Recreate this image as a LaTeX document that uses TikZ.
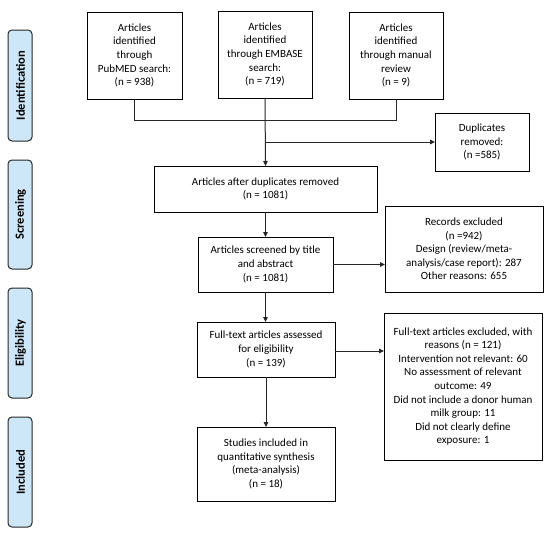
\documentclass[tikz,border=0pt]{standalone}
\usepackage{fontspec}
\setmainfont{Carlito}
\usetikzlibrary{arrows.meta}
\definecolor{phase}{HTML}{CDE7F8}
\tikzset{
  box/.style={draw=black, line width=1pt, fill=white, align=center, inner sep=2pt, font=\fontsize{11}{13.6}\selectfont},
  phasebox/.style={draw=black!85, line width=1pt, fill=phase, rounded corners=4pt},
  conn/.style={line width=1pt, draw=black!85},
  arr/.style={conn, -{Triangle[length=5pt,width=4.5pt]}},
}
\newcommand{\boxat}[6]{% name, x1, y1, x2, y2, text
  \draw[box] (#2,#3) rectangle (#4,#5);
  \node[align=center, inner sep=0pt, font=\fontsize{11}{13.6}\selectfont] (#1) at ({(#2+#4)/2},{(#3+#5)/2}) {#6};
  \coordinate (#1-n) at ({(#2+#4)/2},#3);
  \coordinate (#1-s) at ({(#2+#4)/2},#5);
  \coordinate (#1-w) at (#2,{(#3+#5)/2});
  \coordinate (#1-e) at (#4,{(#3+#5)/2});
}
\begin{document}
\begin{tikzpicture}[x=1pt,y=-1pt]
\useasboundingbox (0,0) rectangle (550,533);
\fill[white] (0,0) rectangle (550,533);
% phase labels
\foreach \nm/\ya/\yb/\txt in {ident/30/141/Identification, screen/160/269/Screening, elig/288/398/Eligibility, incl/417/527/Included}{
  \draw[phasebox] (8,\ya) rectangle (32,\yb);
  \node[rotate=90, font=\bfseries\fontsize{12.5}{14}\selectfont] (\nm) at (20.5,{(\ya+\yb)/2}) {\txt};
}
% boxes
\boxat{pub}{87}{12}{182}{99}{Articles\\identified\\through\\PubMED search:\\(n = 938)}
\boxat{emb}{218}{11}{312}{98}{Articles\\identified\\through EMBASE\\search:\\(n = 719)}
\boxat{man}{349}{12}{443}{99}{Articles\\identified\\through manual\\review\\(n = 9)}
\boxat{dup}{435}{113}{529}{171}{Duplicates\\removed:\\(n =585)}
\boxat{after}{154}{166}{377}{212}{Articles after duplicates removed\\(n = 1081)}
\boxat{scr}{198}{237}{333}{292}{Articles screened by title\\and abstract\\(n = 1081)}
\boxat{rec}{385}{206}{543}{292}{Records excluded\\(n =942)\\Design (review/meta-\\analysis/case report): 287\\Other reasons: 655}
\boxat{full}{197}{322}{335}{377}{Full-text articles assessed\\for eligibility\\(n = 139)}
\boxat{fex}{384}{313}{542}{460}{Full-text articles excluded, with\\reasons (n = 121)\\Intervention not relevant: 60\\No assessment of relevant\\outcome: 49\\Did not include a donor human\\milk group: 11\\Did not clearly define\\exposure: 1}
\boxat{inc}{197}{427}{335}{501}{Studies included in\\quantitative synthesis\\(meta-analysis)\\(n = 18)}
% connectors
\coordinate (j1) at (pub-s |- 0,120);
\coordinate (j3) at (man-s |- 0,120);
\coordinate (jd) at (emb-s |- dup-w);
\draw[conn] (pub-s) -- (j1) -- (j3) -- (man-s);
\draw[arr] (emb-s) -- (after-n);
\draw[arr] (jd) -- (dup-w);
\draw[arr] (after-s) -- (after-s |- scr-n);
\draw[arr] (scr-e) -- (scr-e -| rec-w);
\draw[arr] (scr-s) -- (scr-s |- full-n);
\draw[arr] (full-e |- 0,351) -- (fex-w |- 0,351);
\draw[arr] (full-s) -- (full-s |- inc-n);
\end{tikzpicture}
\end{document}
